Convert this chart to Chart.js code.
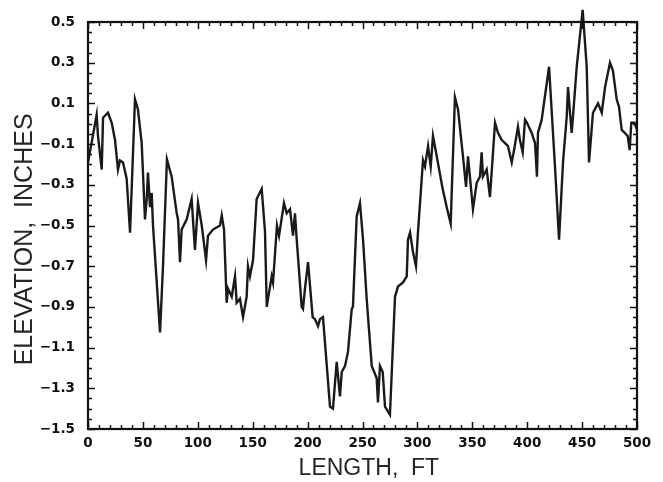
<!DOCTYPE html>
<html>
<head>
<meta charset="utf-8">
<script src="https://cdn.jsdelivr.net/npm/chart.js@4/dist/chart.umd.min.js"></script>
<style>
  html, body { margin: 0; padding: 0; background: #fff; }
  #wrap { width: 663px; height: 482px; }
</style>
</head>
<body>
<div id="wrap"><canvas id="profileChart"></canvas></div>
<script>
// Profile readings: length along the section (ft) and elevation (in)
const lengthFt = [
  0, 3.4, 7.9, 9.1, 12.5, 13.7, 18.2, 21.6, 24.6, 27.3, 29.1, 31.9, 35.2, 38.3,
  42.8, 45.5, 48.9, 51.9, 53.5, 54.6, 56.5, 58, 59.2, 65.6, 68.3, 71.9, 76.2,
  80.8, 82, 83.8, 85.3, 89.9, 94.4, 97.4, 100.2, 103.6, 107.5, 109.3, 113.8,
  120.2, 121.8, 123.9, 126.3, 127.5, 130.9, 133.9, 135.4, 138.4, 141.2, 144.5,
  145.7, 147.5, 150.3, 153.6, 158.2, 161.2, 162.8, 167.3, 168.5, 172.1, 174,
  178.5, 181, 184, 186.7, 188.5, 190.1, 194.6, 195.8, 197.6, 200.4, 204.6,
  206.7, 209.5, 211.3, 214, 220.4, 223.1, 226.5, 229.5, 231.1, 234.1, 236.8,
  240.2, 241.3, 244.7, 247.7, 250.5, 253.8, 258.4, 262.9, 264.1, 265.9, 268.4,
  270.5, 275, 279.6, 282.3, 286.9, 290.3, 291.4, 293.3, 296, 298.7, 300.5,
  305.1, 306.9, 309.7, 312.1, 314.2, 317.6, 323, 326.7, 330.3, 334.2, 337,
  341.5, 344.3, 346.1, 350.6, 354, 357, 358.5, 359.7, 363.1, 366.1, 370.7,
  373.4, 376.8, 379.8, 382.5, 385.9, 388, 391.6, 393.4, 395.9, 398, 399.8,
  404.1, 407.1, 408.9, 409.8, 413.2, 419.9, 425.3, 429, 432.6, 436, 437.2,
  439, 440.5, 441.7, 445.1, 450.5, 454.2, 456.3, 459.9, 464.5, 467.9, 470.9,
  475.4, 478.1, 481.5, 483.6, 486.1, 488.8, 491.5, 493.3, 494.8, 497.8, 500
];
const elevationIn = [
  -0.19, -0.09, 0.044, -0.06, -0.225, 0.03, 0.054, 0.005, -0.08, -0.225, -0.18,
  -0.19, -0.27, -0.535, 0.12, 0.07, -0.095, -0.47, -0.37, -0.24, -0.41, -0.34,
  -0.5, -1.025, -0.70, -0.175, -0.26, -0.44, -0.47, -0.68, -0.52, -0.47, -0.37,
  -0.62, -0.39, -0.5, -0.67, -0.55, -0.52, -0.50, -0.45, -0.52, -0.88, -0.81,
  -0.85, -0.75, -0.88, -0.86, -0.95, -0.85, -0.70, -0.75, -0.67, -0.37, -0.32,
  -0.53, -0.90, -0.75, -0.78, -0.50, -0.55, -0.39, -0.44, -0.42, -0.55, -0.44,
  -0.57, -0.90, -0.91, -0.81, -0.68, -0.95, -0.96, -0.995, -0.96, -0.95, -1.39,
  -1.40, -1.17, -1.34, -1.22, -1.19, -1.12, -0.91, -0.90, -0.455, -0.39, -0.57,
  -0.86, -1.19, -1.25, -1.37, -1.19, -1.22, -1.39, -1.43, -0.85, -0.80, -0.78,
  -0.75, -0.57, -0.535, -0.63, -0.70, -0.535, -0.18, -0.21, -0.11, -0.21, -0.06,
  -0.16, -0.32, -0.41, -0.49, 0.13, 0.07, -0.16, -0.31, -0.16, -0.42, -0.29,
  -0.26, -0.14, -0.26, -0.225, -0.36, 0.005, -0.045, -0.08, -0.095, -0.11,
  -0.19, -0.13, -0.015, -0.08, -0.14, 0.02, 0.005, -0.045, -0.095, -0.26,
  -0.045, 0.02, 0.28, -0.21, -0.57, -0.19, 0.035, 0.18, 0.054, -0.045, 0.035,
  0.28, 0.56, 0.28, -0.19, 0.054, 0.10, 0.054, 0.18, 0.30, 0.26, 0.12, 0.083,
  -0.03, -0.045, -0.06, -0.13, 0.005, 0.005, -0.03
];

// Axis tick labels
const xTicks = [0, 50, 100, 150, 200, 250, 300, 350, 400, 450, 500];
const yTicks = [-1.5, -1.3, -1.1, -0.9, -0.7, -0.5, -0.3, -0.1, 0.1, 0.3, 0.5];

const tickFont = { family: "'DejaVu Sans', Arial, sans-serif", size: 13.5, weight: 'bold' };
const titleFamily = "'Liberation Sans', Arial, sans-serif";

// Draws the frame and the inward tick marks on all four sides
const frameTicks = {
  id: 'frameTicks',
  afterDatasetsDraw(chart) {
    const { ctx, chartArea: a, scales: { x, y } } = chart;
    ctx.save();
    ctx.strokeStyle = '#111';
    ctx.lineWidth = 1.5;
    ctx.beginPath();
    for (let v = 0; v <= 500; v += 10) {
      const px = Math.round(x.getPixelForValue(v)) + 0.5;
      const len = v % 50 === 0 ? 7 : 4;
      ctx.moveTo(px, a.bottom); ctx.lineTo(px, a.bottom - len);
      ctx.moveTo(px, a.top); ctx.lineTo(px, a.top + len);
    }
    for (let i = 0; i <= 40; i++) {
      const v = -1.5 + i * 0.05;
      const py = Math.round(y.getPixelForValue(v)) + 0.5;
      const len = i % 4 === 0 ? 7 : 4;
      ctx.moveTo(a.left, py); ctx.lineTo(a.left + len, py);
      ctx.moveTo(a.right, py); ctx.lineTo(a.right - len, py);
    }
    ctx.stroke();
    ctx.lineWidth = 2.2;
    ctx.strokeRect(a.left, a.top, a.right - a.left, a.bottom - a.top);
    ctx.restore();
  }
};

function initChart() {
  const ctx = document.getElementById('profileChart').getContext('2d');
  new Chart(ctx, {
    type: 'line',
    data: {
      datasets: [{
        data: lengthFt.map((v, i) => ({ x: v, y: elevationIn[i] })),
        borderColor: '#1a1a1a',
        borderWidth: 2.4,
        pointRadius: 0,
        tension: 0,
        fill: false,
        clip: false
      }]
    },
    options: {
      responsive: true,
      maintainAspectRatio: false,
      animation: false,
      layout: { padding: { top: 22, right: 26, left: 0, bottom: 0 } },
      plugins: { legend: { display: false }, tooltip: { enabled: false } },
      scales: {
        x: {
          type: 'linear',
          min: 0,
          max: 500,
          afterBuildTicks: s => { s.ticks = xTicks.map(v => ({ value: v })); },
          afterFit: s => { s.height = 53; },
          grid: { display: false, drawTicks: false },
          border: { display: false },
          ticks: { color: '#111', font: tickFont, padding: 6, maxRotation: 0 },
          title: {
            display: true,
            text: '  LENGTH,  FT',
            color: '#262626',
            font: { family: titleFamily, size: 23 },
            padding: { top: 0, bottom: 0 }
          }
        },
        y: {
          type: 'linear',
          min: -1.5,
          max: 0.5,
          afterBuildTicks: s => { s.ticks = yTicks.map(v => ({ value: v })); },
          afterFit: s => { s.width = 88; },
          grid: { display: false, drawTicks: false },
          border: { display: false },
          ticks: {
            color: '#111',
            font: tickFont,
            padding: 13,
            callback: v => v.toFixed(1).replace('-', '\u2212')
          },
          title: {
            display: true,
            text: 'ELEVATION,  INCHES    ',
            color: '#262626',
            font: { family: titleFamily, size: 25 },
            padding: { top: 10, bottom: 0 }
          }
        }
      }
    },
    plugins: [frameTicks]
  });
}

document.addEventListener('DOMContentLoaded', initChart);
</script>
</body>
</html>
